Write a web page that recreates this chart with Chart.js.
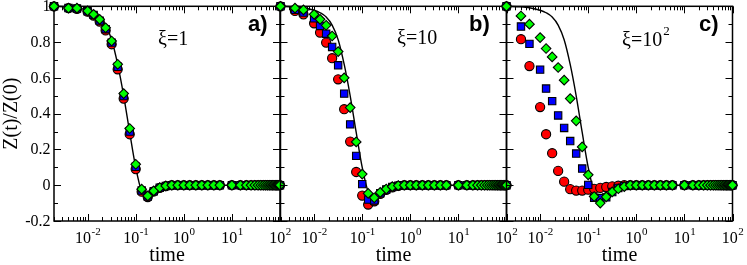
<!DOCTYPE html>
<html>
<head>
<meta charset="utf-8">
<script src="https://cdn.jsdelivr.net/npm/chart.js@4.4.1/dist/chart.umd.min.js"></script>
<style>
  html, body { margin: 0; padding: 0; background: #fff; }
  #wrap { position: relative; width: 747px; height: 265px; overflow: hidden; }
  #wrap canvas { position: absolute; left: 0; top: 0; }
</style>
</head>
<body>
<div id="wrap">
  <canvas id="panelA" width="747" height="265"></canvas>
  <canvas id="panelB" width="747" height="265"></canvas>
  <canvas id="panelC" width="747" height="265"></canvas>
</div>
<script>
// sampling times (shared by every panel)
const times = [0.002, 0.004, 0.006, 0.01, 0.0133, 0.0178, 0.0237, 0.0316, 0.0422, 0.0562,
  0.075, 0.1, 0.133, 0.178, 0.237, 0.316, 0.422, 0.562,
  0.75, 1, 1.33, 1.78, 2.37, 3.16, 4.22, 5.62,
  10, 15, 20, 25, 30, 35, 40, 45, 50, 55, 60, 65, 70, 75, 80, 85, 90, 95, 100];

// late times: everything has relaxed to zero
const flatTail = [0, 0, 0, 0, 0, 0, 0, 0, 0, 0, 0, 0, 0, 0, 0, 0, 0, 0, 0, 0, 0, 0, 0, 0, 0, 0, 0];

// theory curve (solid line), same in all panels, t = 0.002 .. 0.562
const theoryHead = [1, 0.997, 0.992, 0.978, 0.964, 0.94, 0.895, 0.813, 0.675, 0.5,
  0.295, 0.1, -0.035, -0.065, -0.038, -0.015, -0.005, 0];

// panel a) xi = 1
const redA   = [1, 0.99, 0.986, 0.97, 0.948, 0.915, 0.865, 0.788, 0.648, 0.484, 0.285, 0.09, -0.036, -0.066, -0.035, -0.015, -0.005, 0];
const blueA  = [1, 0.99, 0.988, 0.972, 0.952, 0.92, 0.872, 0.797, 0.662, 0.498, 0.3, 0.103, -0.03, -0.063, -0.034, -0.014, -0.004, 0];
const greenA = [1, 0.99, 0.99, 0.974, 0.955, 0.927, 0.88, 0.806, 0.676, 0.512, 0.317, 0.117, -0.022, -0.06, -0.032, -0.013, -0.004, 0];

// panel b) xi = 10
const redB   = [1, 0.974, 0.955, 0.905, 0.853, 0.797, 0.71, 0.592, 0.425, 0.244, 0.074, -0.058, -0.108, -0.09, -0.048, -0.026, -0.012, -0.004];
const blueB  = [1, 0.98, 0.965, 0.933, 0.89, 0.847, 0.773, 0.67, 0.512, 0.34, 0.164, 0.006, -0.08, -0.085, -0.045, -0.024, -0.01, -0.003];
const greenB = [1, 0.99, 0.98, 0.955, 0.927, 0.894, 0.834, 0.747, 0.6, 0.434, 0.242, 0.062, -0.046, -0.07, -0.04, -0.021, -0.008, -0.002];

// panel c) xi = 10^2
const redC   = [1, 0.816, 0.666, 0.437, 0.285, 0.179, 0.08, 0.02, -0.022, -0.03, -0.03, -0.025, -0.02, -0.015, -0.01, -0.006, -0.003, 0];
const blueC  = [1, 0.887, 0.79, 0.646, 0.54, 0.47, 0.39, 0.32, 0.247, 0.177, 0.093, 0.002, -0.07, -0.072, -0.068, -0.038, -0.015, -0.005];
const greenC = [1, 0.946, 0.9, 0.825, 0.764, 0.717, 0.658, 0.587, 0.484, 0.36, 0.214, 0.058, -0.063, -0.1, -0.065, -0.037, -0.02, -0.008];

// axis ticks
const xMajorTicks = [0.01, 0.1, 1, 10, 100];
const xTickExponents = ['-2', '-1', '0', '1', '2'];
const yMajorTicks = [-0.2, 0, 0.2, 0.4, 0.6, 0.8, 1];
const yTickLabels = ['-0.2', '0', '0.2', '0.4', '0.6', '0.8', '1'];
const yMinorTicks = [-0.1, 0.1, 0.3, 0.5, 0.7, 0.9];

const SERIF = '"Liberation Serif", "Times New Roman", serif';
const SANS = '"Liberation Sans", Arial, sans-serif';

const PLOT_TOP = 6;
const PLOT_BOTTOM = 221;
const PLOT_WIDTH = 226;
const W = 747, H = 265;

function xMinorTicks() {
  const out = [];
  for (let k = -3; k <= 1; k++) {
    for (let m = 2; m <= 9; m++) {
      const v = m * Math.pow(10, k);
      if (v >= 0.002 && v <= 100) out.push(v);
    }
  }
  return out;
}

function toPoints(head) {
  const ys = head.concat(flatTail);
  return times.map((t, i) => ({ x: t, y: ys[i] }));
}

// draw "10" with a raised exponent, centred on cx
function drawPower(ctx, base, exp, cx, baseline, align) {
  ctx.font = '16px ' + SERIF;
  const wb = ctx.measureText(base).width;
  ctx.font = '11px ' + SERIF;
  const we = ctx.measureText(exp).width;
  let x0 = cx;
  if (align === 'center') x0 = cx - (wb + we) / 2;
  ctx.textAlign = 'left';
  ctx.textBaseline = 'alphabetic';
  ctx.font = '16px ' + SERIF;
  ctx.fillText(base, x0, baseline);
  ctx.font = '11px ' + SERIF;
  ctx.fillText(exp, x0 + wb + 0.5, baseline - 8);
}

const framePlugin = {
  id: 'frame',
  beforeDatasetsDraw(chart, args, opts) {
    const { ctx, chartArea: a, scales: { x, y } } = chart;
    ctx.save();
    ctx.strokeStyle = '#000';
    ctx.lineWidth = 1;
    ctx.beginPath();
    const vtick = (v, len) => {
      const px = Math.round(x.getPixelForValue(v)) + 0.5;
      ctx.moveTo(px, a.bottom); ctx.lineTo(px, a.bottom - len);
      ctx.moveTo(px, a.top); ctx.lineTo(px, a.top + len);
    };
    const htick = (v, len) => {
      const py = Math.round(y.getPixelForValue(v)) + 0.5;
      ctx.moveTo(a.left, py); ctx.lineTo(a.left + len, py);
      ctx.moveTo(a.right, py); ctx.lineTo(a.right - len, py);
    };
    xMajorTicks.forEach(v => vtick(v, 7));
    xMinorTicks().forEach(v => vtick(v, 4));
    yMajorTicks.forEach(v => htick(v, 7));
    yMinorTicks.forEach(v => htick(v, 4));
    ctx.stroke();

    ctx.lineWidth = 1.5;
    ctx.strokeRect(a.left, a.top, a.right - a.left, a.bottom - a.top);

    ctx.fillStyle = '#000';
    // x tick labels
    xMajorTicks.forEach((v, i) => {
      drawPower(ctx, '10', xTickExponents[i], x.getPixelForValue(v), 243, 'center');
    });
    // x title
    ctx.font = '20px ' + SERIF;
    ctx.textAlign = 'center';
    ctx.textBaseline = 'alphabetic';
    ctx.fillText('time', (a.left + a.right) / 2, 261);

    if (opts.yLabels) {
      ctx.font = '16px ' + SERIF;
      ctx.textAlign = 'right';
      ctx.textBaseline = 'middle';
      yMajorTicks.forEach((v, i) => {
        ctx.fillText(yTickLabels[i], a.left - 3.5, y.getPixelForValue(v) + 0.5);
      });
      ctx.save();
      ctx.translate(12, (a.top + a.bottom) / 2);
      ctx.rotate(-Math.PI / 2);
      ctx.font = '20px ' + SERIF;
      ctx.textAlign = 'center';
      ctx.fillText('Z(t)/Z(0)', 0, 0);
      ctx.restore();
    }

    // xi label
    ctx.textAlign = 'left';
    ctx.textBaseline = 'alphabetic';
    ctx.font = '20px ' + SERIF;
    ctx.fillText(opts.xi, opts.xiX, opts.xiY);
    if (opts.xiExp) {
      const w = ctx.measureText(opts.xi).width;
      ctx.font = '13px ' + SERIF;
      ctx.fillText(opts.xiExp, opts.xiX + w + 1, opts.xiY - 11);
    }
    // panel letter
    ctx.font = 'bold 22px ' + SANS;
    ctx.fillText(opts.letter, opts.letterX, 31);
    ctx.restore();
  }
};

function makePanel(canvasId, left, red, blue, green, opts) {
  const marker = (label, data, style, color, radius, order) => ({
    label, data: toPoints(data), pointStyle: style, pointRadius: radius,
    pointBackgroundColor: color, pointBorderColor: '#000', pointBorderWidth: 1.1,
    showLine: false, clip: false, order
  });
  new Chart(document.getElementById(canvasId), {
    type: 'scatter',
    data: {
      datasets: [
        marker('red', red, 'circle', '#ff0000', 4.6, 2),
        marker('blue', blue, 'rect', '#0000ff', 5.2, 1),
        marker('green', green, 'rectRot', '#00ff00', 4.8, 0),
        {
          label: 'theory', data: toPoints(theoryHead), showLine: true,
          borderColor: '#000', borderWidth: 1.4, pointRadius: 0,
          cubicInterpolationMode: 'monotone', clip: false, order: 3
        }
      ]
    },
    options: {
      responsive: false,
      animation: false,
      devicePixelRatio: 1,
      layout: {
        padding: { left: left, right: W - left - PLOT_WIDTH, top: PLOT_TOP, bottom: H - PLOT_BOTTOM }
      },
      plugins: { legend: { display: false }, tooltip: { enabled: false }, frame: opts },
      scales: {
        x: { type: 'logarithmic', min: 0.002, max: 100, display: false },
        y: { type: 'linear', min: -0.2, max: 1, display: false }
      }
    },
    plugins: [framePlugin]
  });
}

makePanel('panelA', 54, redA, blueA, greenA,
  { yLabels: true, xi: 'ξ=1', xiExp: '', xiX: 158, xiY: 45, letter: 'a)', letterX: 248 });
makePanel('panelB', 280.5, redB, blueB, greenB,
  { yLabels: false, xi: 'ξ=10', xiExp: '', xiX: 397, xiY: 44, letter: 'b)', letterX: 469 });
makePanel('panelC', 506.5, redC, blueC, greenC,
  { yLabels: false, xi: 'ξ=10', xiExp: '2', xiX: 622, xiY: 46, letter: 'c)', letterX: 699 });
</script>
</body>
</html>
